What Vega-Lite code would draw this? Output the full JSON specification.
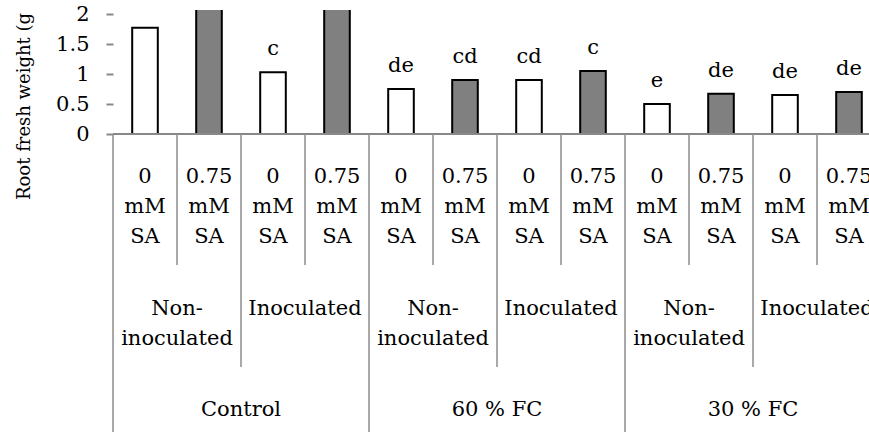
{
  "$schema": "https://vega.github.io/schema/vega-lite/v6.json",
  "autosize": "none",
  "padding": {"left": 113, "top": 10, "right": 0, "bottom": 0},
  "width": 756,
  "height": 422,
  "config": {
    "view": {"stroke": null},
    "font": "DejaVu Serif",
    "text": {"font": "DejaVu Serif", "fontSize": 21, "color": "black"}
  },
  "data": {
    "values": [
      {"id": "Control|Non-inoculated|0", "water": "Control", "inoc": "Non-\ninoculated", "sa": "0 mM SA", "weight": 1.77, "letter": ""},
      {"id": "Control|Non-inoculated|0.75", "water": "Control", "inoc": "Non-\ninoculated", "sa": "0.75 mM SA", "weight": 2.4, "letter": ""},
      {"id": "Control|Inoculated|0", "water": "Control", "inoc": "Inoculated", "sa": "0 mM SA", "weight": 1.03, "letter": "c"},
      {"id": "Control|Inoculated|0.75", "water": "Control", "inoc": "Inoculated", "sa": "0.75 mM SA", "weight": 2.4, "letter": ""},
      {"id": "60|Non-inoculated|0", "water": "60 % FC", "inoc": "Non-\ninoculated", "sa": "0 mM SA", "weight": 0.75, "letter": "de"},
      {"id": "60|Non-inoculated|0.75", "water": "60 % FC", "inoc": "Non-\ninoculated", "sa": "0.75 mM SA", "weight": 0.9, "letter": "cd"},
      {"id": "60|Inoculated|0", "water": "60 % FC", "inoc": "Inoculated", "sa": "0 mM SA", "weight": 0.9, "letter": "cd"},
      {"id": "60|Inoculated|0.75", "water": "60 % FC", "inoc": "Inoculated", "sa": "0.75 mM SA", "weight": 1.05, "letter": "c"},
      {"id": "30|Non-inoculated|0", "water": "30 % FC", "inoc": "Non-\ninoculated", "sa": "0 mM SA", "weight": 0.5, "letter": "e"},
      {"id": "30|Non-inoculated|0.75", "water": "30 % FC", "inoc": "Non-\ninoculated", "sa": "0.75 mM SA", "weight": 0.67, "letter": "de"},
      {"id": "30|Inoculated|0", "water": "30 % FC", "inoc": "Inoculated", "sa": "0 mM SA", "weight": 0.65, "letter": "de"},
      {"id": "30|Inoculated|0.75", "water": "30 % FC", "inoc": "Inoculated", "sa": "0.75 mM SA", "weight": 0.7, "letter": "de"}
    ]
  },
  "encoding": {
    "x": {
      "field": "id",
      "type": "nominal",
      "axis": null,
      "scale": {
        "domain": [
          "Control|Non-inoculated|0", "Control|Non-inoculated|0.75", "Control|Inoculated|0", "Control|Inoculated|0.75",
          "60|Non-inoculated|0", "60|Non-inoculated|0.75", "60|Inoculated|0", "60|Inoculated|0.75",
          "30|Non-inoculated|0", "30|Non-inoculated|0.75", "30|Inoculated|0", "30|Inoculated|0.75"
        ],
        "range": [0, 768],
        "paddingInner": 0,
        "paddingOuter": 0
      }
    }
  },
  "layer": [
    {
      "mark": {"type": "bar", "width": {"band": 0.4}, "stroke": "black", "strokeWidth": 2, "clip": true},
      "encoding": {
        "y": {
          "field": "weight",
          "type": "quantitative",
          "scale": {"domain": [-4.967, 2.067], "nice": false, "zero": false},
          "axis": {
            "values": [0, 0.5, 1, 1.5, 2],
            "format": "~g",
            "domain": false,
            "grid": false,
            "ticks": true,
            "tickColor": "#888888",
            "tickWidth": 2,
            "tickSize": 7,
            "labelPadding": 17,
            "labelFont": "DejaVu Serif",
            "labelFontSize": 21,
            "labelColor": "black",
            "labelFlush": false,
            "labelOverlap": false,
            "title": "Root fresh weight (g",
            "titleFont": "DejaVu Serif",
            "titleFontSize": 18,
            "titleFontWeight": "normal",
            "titleColor": "black",
            "titleAngle": -90,
            "titleAlign": "center",
            "titleBaseline": "bottom",
            "titleX": -80,
            "titleY": 96
          }
        },
        "fill": {
          "field": "sa",
          "type": "nominal",
          "scale": {"domain": ["0 mM SA", "0.75 mM SA"], "range": ["#ffffff", "#808080"]},
          "legend": null
        }
      }
    },
    {
      "mark": {"type": "text", "baseline": "alphabetic", "align": "center", "dy": -17},
      "encoding": {
        "y": {"field": "weight", "type": "quantitative"},
        "text": {"field": "letter"}
      }
    },
    {
      "mark": {"type": "rule", "color": "#888888", "strokeWidth": 2},
      "encoding": {
        "x": null,
        "y": {"datum": 0}
      }
    },
    {
      "transform": [{"filter": "datum.sa == '0.75 mM SA'"}],
      "mark": {"type": "rule", "color": "#8c8c8c", "strokeWidth": 1.5},
      "encoding": {
        "x": {"field": "id", "type": "nominal", "bandPosition": 0},
        "y": {"datum": 0},
        "y2": {"datum": -2.183}
      }
    },
    {
      "transform": [{"filter": "datum.sa == '0 mM SA' && datum.inoc == 'Inoculated'"}],
      "mark": {"type": "rule", "color": "#8c8c8c", "strokeWidth": 1.5},
      "encoding": {
        "x": {"field": "id", "type": "nominal", "bandPosition": 0},
        "y": {"datum": 0},
        "y2": {"datum": -3.883}
      }
    },
    {
      "transform": [{"filter": "datum.sa == '0 mM SA' && datum.inoc != 'Inoculated'"}],
      "mark": {"type": "rule", "color": "#8c8c8c", "strokeWidth": 1.5},
      "encoding": {
        "x": {"field": "id", "type": "nominal", "bandPosition": 0},
        "y": {"datum": 0},
        "y2": {"datum": -4.967}
      }
    },
    {
      "mark": {"type": "text", "baseline": "alphabetic", "align": "center", "lineBreak": " ", "lineHeight": 30},
      "encoding": {
        "y": {"datum": -0.822},
        "text": {"field": "sa"}
      }
    },
    {
      "transform": [{"filter": "datum.sa == '0 mM SA'"}],
      "mark": {"type": "text", "baseline": "alphabetic", "align": "center", "lineBreak": "\n", "lineHeight": 30},
      "encoding": {
        "x": {"field": "id", "type": "nominal", "bandPosition": 1},
        "y": {"datum": -3.017},
        "text": {"field": "inoc"}
      }
    },
    {
      "transform": [{"filter": "datum.sa == '0.75 mM SA' && datum.inoc != 'Inoculated'"}],
      "mark": {"type": "text", "baseline": "alphabetic", "align": "center"},
      "encoding": {
        "x": {"field": "id", "type": "nominal", "bandPosition": 1},
        "y": {"datum": -4.7},
        "text": {"field": "water"}
      }
    }
  ]
}
